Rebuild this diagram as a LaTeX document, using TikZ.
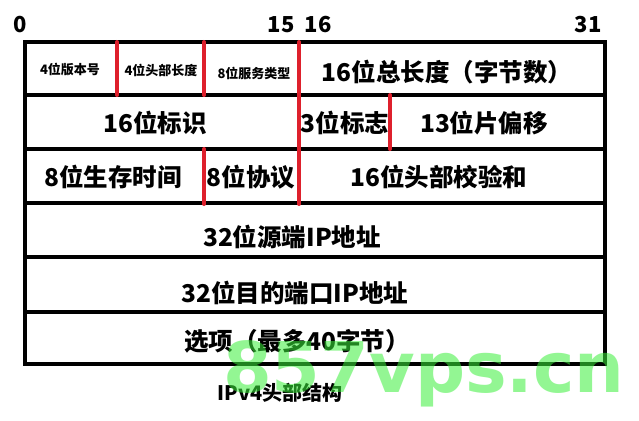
\documentclass[tikz,border=0pt]{standalone}
\usepackage{fontspec}
\newfontfamily\cjk{Noto Sans CJK SC}
\newfontfamily\wmfont{DejaVu Sans}
\definecolor{divred}{RGB}{222,32,44}
\definecolor{wmgreen}{RGB}{60,240,60}
\begin{document}
\begin{tikzpicture}[x=1pt,y=-1pt,
  big/.style={font=\cjk\bfseries\fontsize{24.5}{28}\selectfont, inner sep=0pt},
  small/.style={font=\cjk\bfseries\fontsize{13}{15}\selectfont, inner sep=0pt},
  num/.style={font=\cjk\bfseries\fontsize{22}{26}\selectfont, inner sep=0pt},
  caption/.style={font=\cjk\bfseries\fontsize{20}{24}\selectfont, inner sep=0pt},
  grid/.style={line width=4.5pt, black},
  divider/.style={line width=4pt, divred, line cap=round},
  watermark/.style={font=\wmfont\bfseries\fontsize{70}{72}\selectfont, text=wmgreen, text opacity=0.55, inner sep=0pt}]
\useasboundingbox[fill=white] (0,0) rectangle (639,420);
% grid
\draw[grid] (25,42) rectangle (605,364);
\foreach \yy in {95,149,203,257,312} \draw[grid] (25,\yy) -- (605,\yy);
% red dividers
\draw[divider] (117,42) -- (117,95);
\draw[divider] (204,42) -- (204,95);
\draw[divider] (299,42) -- (299,204);
\draw[divider] (390,95) -- (390,149);
\draw[divider] (204,149) -- (204,204);
% bit numbers
\node[num] (b0) at (20,25) {0};
\node[num] (b15) at (281,25) {15};
\node[num] (b16) at (318,25) {16};
\node[num] (b31) at (588,25) {31};
% row 1
\node[small] (ver) at (70,69.5) {4位版本号};
\node[small] (ihl) at (161,70.5) {4位头部长度};
\node[small] (tos) at (254,73.5) {8位服务类型};
\node[big] (len) at (447,72) {16位总长度（字节数）};
% row 2
\node[big] (ident) at (155,123) {16位标识};
\node[big] (flags) at (345,123) {3位标志};
\node[big] (frag) at (484,123) {13位片偏移};
% row 3
\node[big] (ttl) at (113,177) {8位生存时间};
\node[big] (proto) at (251,177) {8位协议};
\node[big] (csum) at (439,177) {16位头部校验和};
% rows 4-6
\node[big] (src) at (292,237) {32位源端IP地址};
\node[big] (dst) at (295,293) {32位目的端口IP地址};
\node[big] (opt) at (297,341) {选项（最多40字节）};
% caption
\node[caption] (cap) at (280,393) {IPv4头部结构};
% watermark
\node[watermark, anchor=base west] (wm) at (223,392) {857vps.cn};
\end{tikzpicture}
\end{document}
